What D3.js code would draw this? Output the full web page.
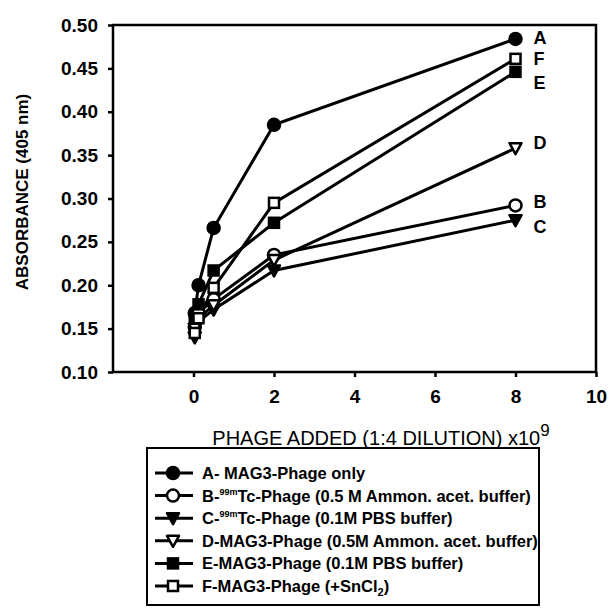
<!DOCTYPE html>
<html>
<head>
<meta charset="utf-8">
<script src="https://cdn.jsdelivr.net/npm/d3@7"></script>
<style>
  body { margin: 0; background: #fff; }
  svg { font-family: "Liberation Sans", Arial, sans-serif; }
</style>
</head>
<body>
<svg id="chart" width="610" height="612"></svg>
<script>
'use strict';

// phage added, 1:4 dilution series (x10^9)
const dilutions = [0.03125, 0.125, 0.5, 2, 8];
const seriesA = [0.168, 0.200, 0.266, 0.385, 0.484];
const seriesB = [0.152, 0.168, 0.184, 0.235, 0.292];
const seriesC = [0.140, 0.158, 0.172, 0.217, 0.275];
const seriesD = [0.150, 0.162, 0.177, 0.229, 0.358];
const seriesE = [0.162, 0.178, 0.217, 0.272, 0.446];
const seriesF = [0.145, 0.162, 0.197, 0.295, 0.461];
const seriesKeys = ['A', 'B', 'C', 'D', 'E', 'F'];
const legendLabels = [
  ['A- MAG3-Phage only'],
  ['B-', '99m', 'Tc-Phage  (0.5 M Ammon. acet. buffer)'],
  ['C-', '99m', 'Tc-Phage (0.1M PBS buffer)'],
  ['D-MAG3-Phage (0.5M Ammon. acet. buffer)'],
  ['E-MAG3-Phage (0.1M PBS buffer)'],
  ['F-MAG3-Phage (+SnCl', '2', ')']
];
const xTicks = [0, 2, 4, 6, 8, 10];
const yTicks = [0.10, 0.15, 0.20, 0.25, 0.30, 0.35, 0.40, 0.45, 0.50];

const seriesValues = [seriesA, seriesB, seriesC, seriesD, seriesE, seriesF];
// marker shape and fill for each series
const markers = {
  A: {shape: 'circle', filled: true},
  B: {shape: 'circle', filled: false},
  C: {shape: 'triangle', filled: true},
  D: {shape: 'triangle', filled: false},
  E: {shape: 'square', filled: true},
  F: {shape: 'square', filled: false}
};

const svg = d3.select('#chart');
const margin = {left: 113, top: 25, right: 596, bottom: 372};

const x = d3.scaleLinear().domain([-2, 10]).range([margin.left, margin.right]);
const y = d3.scaleLinear().domain([0.10, 0.50]).range([margin.bottom, margin.top]);

/**
 * Draws one marker at a given position
 */
function drawMarker(g, key, cx, cy) {
  const m = markers[key];
  const fill = m.filled ? '#000' : '#fff';
  if (m.shape === 'circle') {
    g.append('circle').attr('cx', cx).attr('cy', cy).attr('r', 6)
      .attr('fill', fill).attr('stroke', '#000').attr('stroke-width', 2.5);
  } else if (m.shape === 'square') {
    g.append('rect').attr('x', cx - 5).attr('y', cy - 5)
      .attr('width', 10).attr('height', 10)
      .attr('fill', fill).attr('stroke', '#000').attr('stroke-width', 2.5);
  } else {
    g.append('path')
      .attr('d', 'M' + (cx - 6) + ',' + (cy - 5) + 'L' + (cx + 6) + ',' + (cy - 5) +
        'L' + cx + ',' + (cy + 6) + 'Z')
      .attr('fill', fill).attr('stroke', '#000').attr('stroke-width', 2.5)
      .attr('stroke-linejoin', 'round');
  }
}

// frame
svg.append('rect')
  .attr('x', margin.left).attr('y', margin.top)
  .attr('width', margin.right - margin.left)
  .attr('height', margin.bottom - margin.top)
  .attr('fill', 'none').attr('stroke', '#000').attr('stroke-width', 2.5);

// y axis
const yAxis = d3.axisLeft(y).tickValues(yTicks).tickSize(5).tickPadding(10)
  .tickFormat(d3.format('.2f'));
svg.append('g')
  .attr('transform', 'translate(' + margin.left + ',0)')
  .call(yAxis)
  .call(function(g) {
    g.select('.domain').remove();
    g.selectAll('line').attr('stroke-width', 2.5);
    g.selectAll('text').attr('font-size', 19).attr('font-weight', 'bold')
      .attr('fill', '#000');
  });

// x axis
const xAxis = d3.axisBottom(x).tickValues(xTicks).tickSize(5).tickPadding(13);
svg.append('g')
  .attr('transform', 'translate(0,' + margin.bottom + ')')
  .call(xAxis)
  .call(function(g) {
    g.select('.domain').remove();
    g.selectAll('line').attr('stroke-width', 2.5);
    g.selectAll('text').attr('font-size', 19).attr('font-weight', 'bold')
      .attr('fill', '#000');
  });

// axis titles
svg.append('text')
  .attr('transform', 'translate(28,' + 192 + ') rotate(-90)')
  .attr('text-anchor', 'middle')
  .attr('font-size', 17)
  .attr('font-weight', 'bold')
  .text('ABSORBANCE (405 nm)');

const xTitle = svg.append('text')
  .attr('x', 381).attr('y', 445)
  .attr('text-anchor', 'middle')
  .attr('font-size', 20);
xTitle.append('tspan').text('PHAGE ADDED (1:4 DILUTION) x10');
xTitle.append('tspan').attr('dy', -9).attr('font-size', 17).text('9');

// series lines and markers
const line = d3.line()
  .x(function(d) { return x(d[0]); })
  .y(function(d) { return y(d[1]); });

const plot = svg.append('g');
seriesKeys.forEach(function(key, i) {
  const pts = dilutions.map(function(d, j) { return [d, seriesValues[i][j]]; });
  plot.append('path')
    .datum(pts)
    .attr('d', line)
    .attr('fill', 'none')
    .attr('stroke', '#000')
    .attr('stroke-width', 3);
});
seriesKeys.forEach(function(key, i) {
  dilutions.forEach(function(d, j) {
    drawMarker(plot, key, x(d), y(seriesValues[i][j]));
  });
});

// end labels
const endLabelOffsets = {A: -2, B: -4, C: 6, D: -6, E: 10, F: -1};
seriesKeys.forEach(function(key, i) {
  const last = seriesValues[i][seriesValues[i].length - 1];
  svg.append('text')
    .attr('x', x(8) + 18)
    .attr('y', y(last) + endLabelOffsets[key] + 7)
    .attr('font-size', 18)
    .attr('font-weight', 'bold')
    .text(key);
});

// legend
const legendX = 147;
const legendY = 448;
const rowH = 22.6;
const legend = svg.append('g');
legend.append('rect')
  .attr('x', legendX).attr('y', legendY)
  .attr('width', 392).attr('height', 157)
  .attr('fill', 'none').attr('stroke', '#000').attr('stroke-width', 2);

seriesKeys.forEach(function(key, i) {
  const ry = legendY + 25 + i * rowH;
  legend.append('line')
    .attr('x1', legendX + 8).attr('x2', legendX + 46)
    .attr('y1', ry).attr('y2', ry)
    .attr('stroke', '#000').attr('stroke-width', 3);
  drawMarker(legend, key, legendX + 26, ry);
  const t = legend.append('text')
    .attr('x', legendX + 55).attr('y', ry + 6)
    .attr('font-family', '"Liberation Sans Narrow", "Arial Narrow", "Liberation Sans", sans-serif')
    .attr('font-size', 16.5)
    .attr('font-weight', 'bold');
  const parts = legendLabels[i];
  if (parts.length === 1) {
    t.text(parts[0]);
  } else if (key === 'F') {
    t.append('tspan').text(parts[0]);
    t.append('tspan').attr('dy', 4).attr('font-size', 11).text(parts[1]);
    t.append('tspan').attr('dy', -4).text(parts[2]);
  } else {
    t.append('tspan').text(parts[0]);
    t.append('tspan').attr('dy', -7).attr('font-size', 9).text(parts[1]);
    t.append('tspan').attr('dy', 7).text(parts[2]);
  }
});
</script>
</body>
</html>
